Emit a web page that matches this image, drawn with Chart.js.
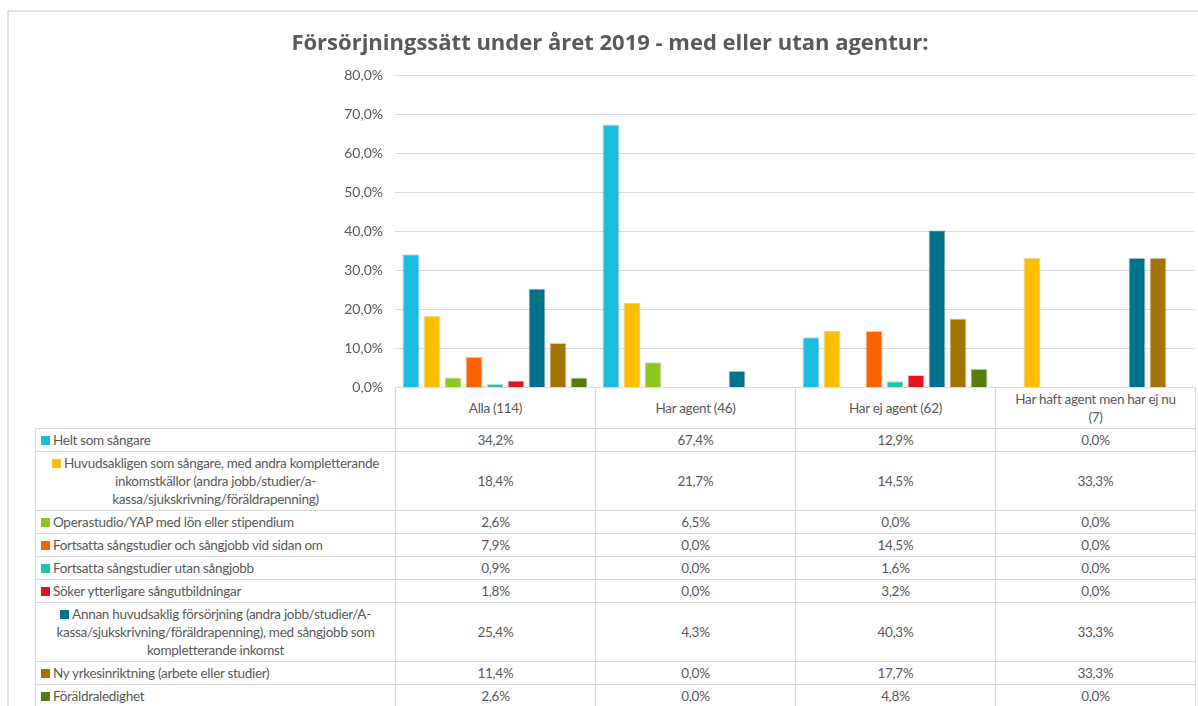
<!DOCTYPE html>
<html>
<head>
<meta charset="utf-8">
<script src="https://cdn.jsdelivr.net/npm/chart.js@4.4.1/dist/chart.umd.min.js"></script>
<style>
  html, body { margin: 0; padding: 0; background: #fff; }
  #wrap { position: relative; width: 1198px; height: 706px; overflow: hidden; font-family: Lato, "Open Sans", sans-serif; color: #595959; }
  #frame { position: absolute; left: 7px; top: 10px; width: 1300px; height: 800px; border-left: 2px solid #e4e4e4; border-top: 2px solid #e4e4e4; }
  #chartBox { position: absolute; left: 8px; top: 0; width: 1206px; height: 408px; z-index: 2; }
  #table { position: absolute; left: 35px; top: 388px; border-collapse: collapse; table-layout: fixed; font-size: 13.5px; line-height: 18px; letter-spacing: -0.3px; }
  #table td { border: 1px solid #d9d9d9; padding: 2px 5px; text-align: center; vertical-align: middle; }
  #table td.blank { border: none; }
  #table tr.head td { border-top: none; height: 36px; padding: 2px 12px; }
  #table td.lab { text-align: left; }
  .key { display: inline-block; width: 9px; height: 9px; margin-right: 3px; vertical-align: 0px; }
</style>
</head>
<body>
<div id="wrap">
  <div id="frame"></div>
  <div id="chartBox"><canvas id="c" width="1206" height="408"></canvas></div>
  <table id="table"></table>
</div>
<script>
const categories = ["Alla (114)", "Har agent (46)", "Har ej agent (62)", "Har haft agent men har ej nu (7)"];

const seriesNames = [
  "Helt som sångare",
  "Huvudsakligen som sångare, med andra kompletterande inkomstkällor (andra jobb/studier/a-kassa/sjukskrivning/föräldrapenning)",
  "Operastudio/YAP med lön eller stipendium",
  "Fortsatta sångstudier och sångjobb vid sidan om",
  "Fortsatta sångstudier utan sångjobb",
  "Söker ytterligare sångutbildningar",
  "Annan huvudsaklig försörjning (andra jobb/studier/A-kassa/sjukskrivning/föräldrapenning), med sångjobb som kompletterande inkomst",
  "Ny yrkesinriktning (arbete eller studier)",
  "Föräldraledighet"
];

const heltSomSangare = [34.2, 67.4, 12.9, 0.0];
const huvudsakligenSangare = [18.4, 21.7, 14.5, 33.3];
const operastudio = [2.6, 6.5, 0.0, 0.0];
const studierMedJobb = [7.9, 0.0, 14.5, 0.0];
const studierUtanJobb = [0.9, 0.0, 1.6, 0.0];
const sokerUtbildning = [1.8, 0.0, 3.2, 0.0];
const annanForsorjning = [25.4, 4.3, 40.3, 33.3];
const nyYrkesinriktning = [11.4, 0.0, 17.7, 33.3];
const foraldraledighet = [2.6, 0.0, 4.8, 0.0];

const seriesValues = [heltSomSangare, huvudsakligenSangare, operastudio, studierMedJobb,
  studierUtanJobb, sokerUtbildning, annanForsorjning, nyYrkesinriktning, foraldraledighet];

const seriesColors = ["#1bbbde", "#fdbf00", "#8cc71d", "#ff6200", "#1fc4a6", "#e3141f", "#00738a", "#a37400", "#557c0c"];

const yMax = 80;
const yStep = 10;

function pct(v) {
  return v.toFixed(1).replace(".", ",") + "%";
}

const datasets = seriesNames.map((name, i) => ({
  label: name,
  data: seriesValues[i],
  backgroundColor: seriesColors[i],
  borderColor: "rgba(0,0,0,0.18)",
  borderWidth: ctx => (ctx.raw === 0 ? 0 : 1),
  categoryPercentage: 0.945,
  barPercentage: 0.81
}));

new Chart(document.getElementById("c"), {
  type: "bar",
  data: { labels: categories, datasets },
  options: {
    responsive: false,
    animation: false,
    layout: { padding: { left: 17, right: 19, top: 0, bottom: 0 } },
    plugins: {
      legend: { display: false },
      tooltip: { enabled: false },
      title: {
        display: true,
        text: "Försörjningssätt under året 2019 - med eller utan agentur:",
        color: "#595959",
        font: { family: "'Open Sans', Lato, sans-serif", size: 22, weight: "bold" },
        padding: { top: 31, bottom: 18 }
      }
    },
    scales: {
      x: { display: false },
      y: {
        min: 0,
        max: yMax,
        ticks: {
          stepSize: yStep,
          color: "#595959",
          font: { family: "Lato, 'Open Sans', sans-serif", size: 14 },
          padding: 12,
          callback: v => pct(v)
        },
        grid: { color: "#dcdcdc", drawTicks: false },
        border: { display: false },
        afterFit: scale => { scale.width = 370; }
      }
    }
  }
});

// data table under the plot
const table = document.getElementById("table");
const colgroup = document.createElement("colgroup");
[360, 200, 200, 200, 200].forEach(w => {
  const col = document.createElement("col");
  col.style.width = w + "px";
  colgroup.appendChild(col);
});
table.appendChild(colgroup);

const head = document.createElement("tr");
head.className = "head";
const blank = document.createElement("td");
blank.className = "blank";
head.appendChild(blank);
categories.forEach(c => {
  const td = document.createElement("td");
  td.textContent = c;
  head.appendChild(td);
});
table.appendChild(head);

seriesNames.forEach((name, i) => {
  const tr = document.createElement("tr");
  const lab = document.createElement("td");
  lab.className = "lab";
  const key = document.createElement("span");
  key.className = "key";
  key.style.background = seriesColors[i];
  lab.appendChild(key);
  lab.appendChild(document.createTextNode(name));
  tr.appendChild(lab);
  seriesValues[i].forEach(v => {
    const td = document.createElement("td");
    td.textContent = pct(v);
    tr.appendChild(td);
  });
  table.appendChild(tr);
});

// wrapped labels are centred, single line ones stay left
table.querySelectorAll("td.lab").forEach(td => {
  if (td.offsetHeight > 30) td.style.textAlign = "center";
});
</script>
</body>
</html>
